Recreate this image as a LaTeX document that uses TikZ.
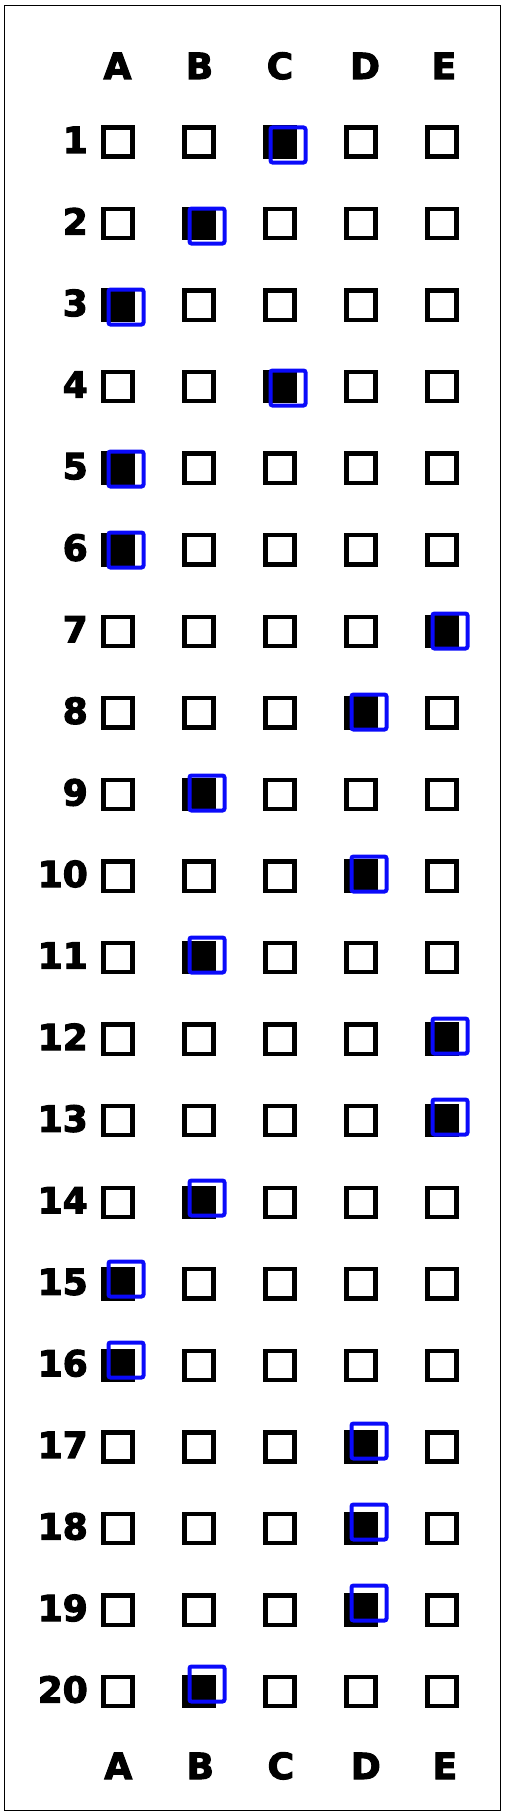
\documentclass[tikz,border=0pt]{standalone}
\usepackage{fontspec}
\setmainfont{DejaVu Sans}
\newfontfamily\heavyfont{DejaVu Sans Bold}[FakeBold=3]
\definecolor{markblue}{RGB}{10,10,250}
\begin{document}
\begin{tikzpicture}[x=1pt,y=-1pt,
  box/.style={draw=black,line width=4.3pt,minimum size=29.2pt,inner sep=0pt},
  filledbox/.style={box,fill=black},
  markbox/.style={draw=markblue,line width=4pt,minimum size=35pt,inner sep=0pt,rounded corners=2pt},
  lab/.style={font=\heavyfont\fontsize{36}{36}\selectfont,inner sep=0pt,anchor=base},
  num/.style={font=\heavyfont\fontsize{36}{36}\selectfont,inner sep=0pt,anchor=base east}]
\useasboundingbox (0,0) rectangle (506,1817);
\draw[line width=1.1pt] (4.7,5.3) rectangle (500.9,1810.7);
% column headers
\foreach \L/\x in {A/117.5,B/199.5,C/280,D/365,E/444}{
  \node[lab] (top\L) at (\x,79) {\L};
  \node[lab] (bot\L) at (\x+0.8,1779) {\L};
}
% rows
\foreach \i/\ans in {1/3,2/2,3/1,4/3,5/1,6/1,7/5,8/4,9/2,10/4,11/2,12/5,13/5,14/2,15/1,16/1,17/4,18/4,19/4,20/2}{
  \pgfmathsetmacro\yy{142+(\i-1)*81.56}
  \node[num] (n\i) at (88,\yy+11) {\i};
  \foreach \c in {1,...,5}{
    \pgfmathsetmacro\xx{37+81*\c}
    \ifnum\c=\ans
      \node[filledbox] (b\i-\c) at (\xx,\yy) {};
    \else
      \node[box] (b\i-\c) at (\xx,\yy) {};
    \fi
  }
  \pgfmathsetmacro\bx{37+81*\ans+8}
  \pgfmathsetmacro\by{145+(\i-1)*81.0}
  \node[markbox] (m\i) at (\bx,\by) {};
}
\end{tikzpicture}
\end{document}
